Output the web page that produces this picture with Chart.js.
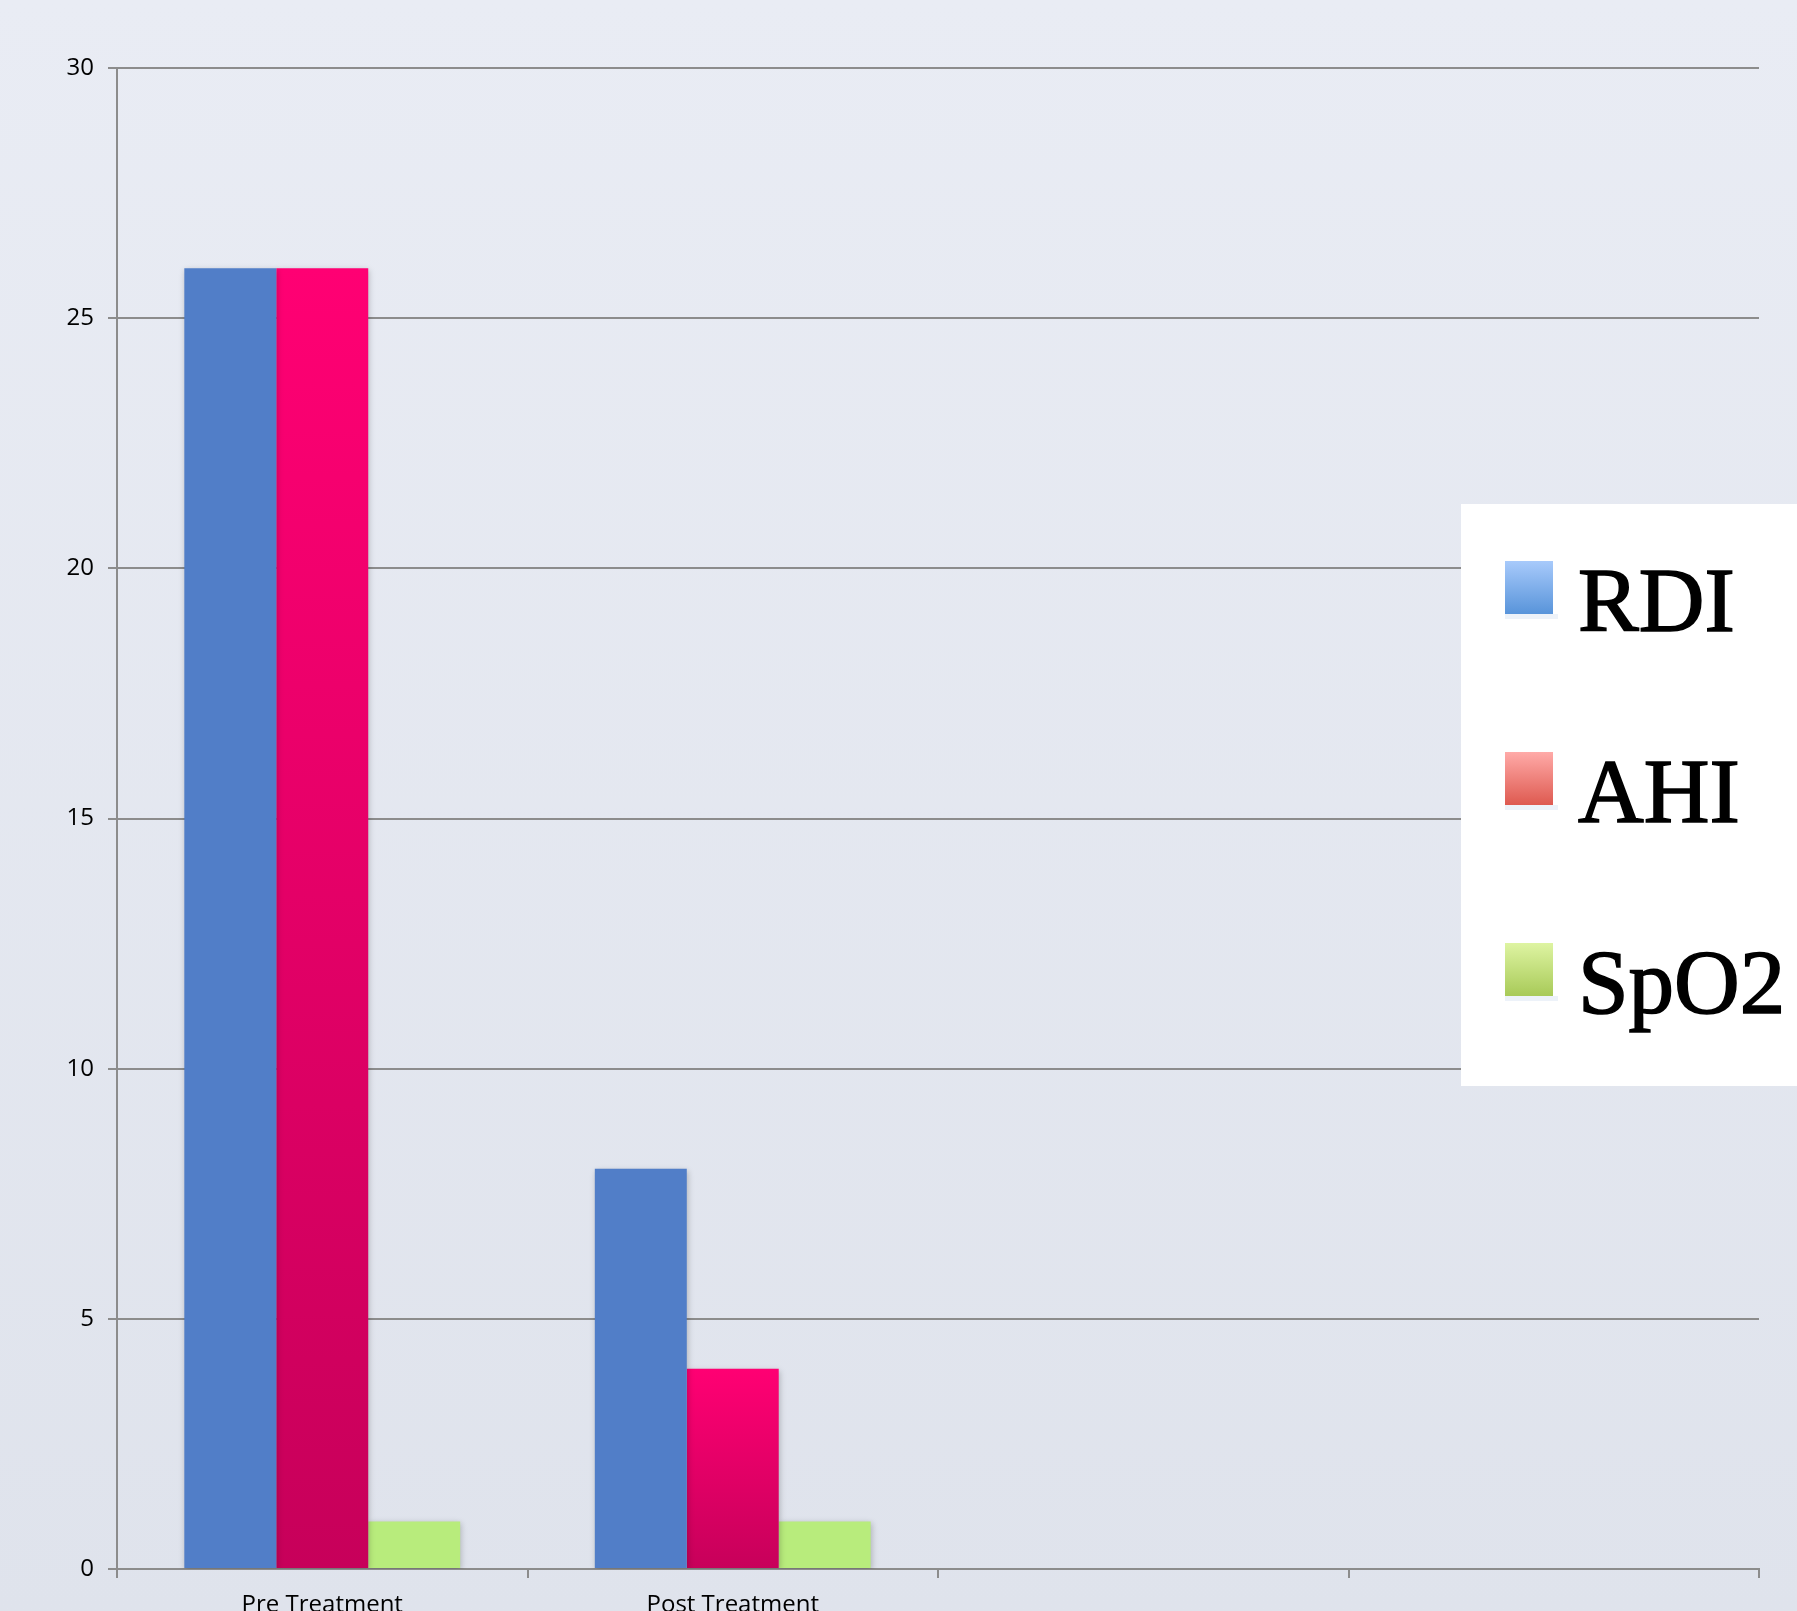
<!DOCTYPE html>
<html>
<head>
<meta charset="utf-8">
<script src="https://cdn.jsdelivr.net/npm/chart.js@4/dist/chart.umd.min.js"></script>
<style>
  html, body { margin: 0; padding: 0; background: #e5e8f0; overflow: hidden; }
  #wrap { width: 1797px; height: 1611px; position: relative; }
  canvas { display: block; }
</style>
</head>
<body>
<div id="wrap"><canvas id="c" width="1797" height="1611"></canvas></div>
<script>
// ---- data ----
const categories = ['Pre Treatment', 'Post Treatment', '', ''];
const rdiValues = [26, 8, null, null];
const ahiValues = [26, 4, null, null];
const spo2Values = [0.95, 0.95, null, null];
const seriesNames = ['RDI', 'AHI', 'SpO2'];
const yTicksMin = 0, yTicksMax = 30, yTickStep = 5;

// ---- styles ----
const GRID = '#8c8c8c';
const FONT = '"Open Sans", "Liberation Sans", sans-serif';
const legendSwatches = [
  ['#a8cafb', '#5894da'],
  ['#ffaaa8', '#de5a50'],
  ['#def4a2', '#a8ca58']
];

function ahiGradient(ctx) {
  const chart = ctx.chart;
  if (!chart.chartArea || ctx.type !== 'data' || ctx.raw == null) return '#ff0073';
  const ys = chart.scales.y;
  const top = ys.getPixelForValue(ctx.raw);
  const base = ys.getPixelForValue(0);
  const g = chart.ctx.createLinearGradient(0, top, 0, base);
  g.addColorStop(0, '#ff0073');
  g.addColorStop(1, '#c7005a');
  return g;
}

const bgPlugin = {
  id: 'bg',
  beforeDraw(chart) {
    const c = chart.ctx;
    const g = c.createLinearGradient(0, 0, 0, chart.height);
    g.addColorStop(0, '#e9ecf4');
    g.addColorStop(1, '#dfe3ec');
    c.save();
    c.fillStyle = g;
    c.fillRect(0, 0, chart.width, chart.height);
    c.restore();
  }
};

const shadowPlugin = {
  id: 'barShadow',
  beforeDatasetsDraw(chart) {
    const c = chart.ctx;
    c.save();
    c.shadowColor = 'rgba(0,0,0,0.22)';
    c.shadowBlur = 6;
    c.shadowOffsetX = 1;
    c.shadowOffsetY = 2;
  },
  afterDatasetsDraw(chart) {
    chart.ctx.restore();
  }
};

const legendPlugin = {
  id: 'customLegend',
  afterDraw(chart) {
    const c = chart.ctx;
    c.save();
    c.fillStyle = '#ffffff';
    c.fillRect(1461, 504, 1797 - 1461, 1086 - 504);
    chart.data.datasets.forEach((ds, i) => {
      const y0 = 561 + i * 191;
      const g = c.createLinearGradient(0, y0, 0, y0 + 53);
      g.addColorStop(0, legendSwatches[i][0]);
      g.addColorStop(1, legendSwatches[i][1]);
      c.fillStyle = g;
      c.fillRect(1505, y0, 48, 53);
      c.fillStyle = 'rgba(255,255,255,0.45)';
      c.fillRect(1553, y0, 5, 53);
      c.fillStyle = 'rgba(230,236,246,0.7)';
      c.fillRect(1505, y0 + 53, 53, 5);
      c.fillStyle = '#000000';
      c.strokeStyle = '#000000';
      c.lineWidth = 1.6;
      c.font = '91px "Liberation Serif", "DejaVu Serif", serif';
      c.textBaseline = 'alphabetic';
      c.textAlign = 'left';
      c.fillText(ds.label, 1578, 631 + i * 191);
      c.strokeText(ds.label, 1578, 631 + i * 191);
    });
    c.restore();
  }
};

new Chart(document.getElementById('c'), {
  type: 'bar',
  data: {
    labels: categories,
    datasets: [
      { label: seriesNames[0], data: rdiValues, backgroundColor: '#517ec8' },
      { label: seriesNames[1], data: ahiValues, backgroundColor: ahiGradient },
      { label: seriesNames[2], data: spo2Values, backgroundColor: '#b8ec7c' }
    ]
  },
  options: {
    responsive: false,
    animation: false,
    devicePixelRatio: 1,
    layout: { padding: { top: 68, right: 38, left: 0, bottom: 0 } },
    datasets: { bar: { barPercentage: 1, categoryPercentage: 0.672, borderWidth: 0 } },
    plugins: { legend: { display: false }, tooltip: { enabled: false } },
    scales: {
      x: {
        type: 'category',
        offset: true,
        grid: { display: true, drawOnChartArea: false, drawTicks: true, tickLength: 9, color: GRID, lineWidth: 2, offset: true },
        border: { display: true, color: GRID, width: 2 },
        ticks: { color: '#000', font: { family: FONT, size: 24 }, padding: 13, maxRotation: 0, autoSkip: false },
        afterFit(scale) { scale.height = 42; }
      },
      y: {
        min: yTicksMin,
        max: yTicksMax,
        ticks: { stepSize: yTickStep, color: '#000', font: { family: FONT, size: 24 }, padding: 14 },
        grid: { color: GRID, lineWidth: 2, tickLength: 9, drawTicks: true },
        border: { display: true, color: GRID, width: 2 },
        afterFit(scale) { scale.width = 117; }
      }
    }
  },
  plugins: [bgPlugin, shadowPlugin, legendPlugin]
});
</script>
</body>
</html>
